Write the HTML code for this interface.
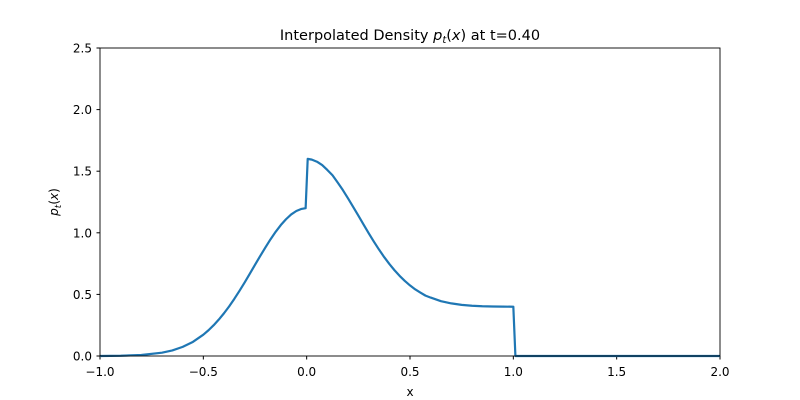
<!DOCTYPE html>
<html><head><meta charset="utf-8"><style>
body{margin:0;background:#fff;}
svg{display:block;font-family:"DejaVu Sans","Liberation Sans",sans-serif;}
</style></head><body>
<svg id="chart" width="800" height="400" viewBox="0 0 800 400">
<rect width="800" height="400" fill="#fff"/>
<text x="410" y="40" text-anchor="middle" font-size="14.5">Interpolated Density <tspan font-style="italic">p</tspan><tspan font-style="italic" font-size="10" dy="3">t</tspan><tspan dy="-3">(</tspan><tspan font-style="italic">x</tspan>) at t=0.40</text>
<g id="ticks"></g>
<path id="curve" fill="none" stroke="#1f77b4" stroke-width="2.2" stroke-linejoin="round"/>
<rect x="100" y="48" width="620" height="308" fill="none" stroke="#000" stroke-width="0.9"/>
<text x="410" y="396" text-anchor="middle" font-size="12">x</text>
<text transform="translate(58,202) rotate(-90)" text-anchor="middle" font-size="12"><tspan font-style="italic">p</tspan><tspan font-style="italic" font-size="9" dy="3">t</tspan><tspan dy="-3">(</tspan><tspan font-style="italic">x</tspan>)</text>
</svg>
<script>
const xValues = [-1,-0.9,-0.8,-0.7,-0.65,-0.6,-0.55,-0.5,-0.475,-0.45,-0.425,-0.4,-0.375,-0.35,-0.325,-0.3,-0.275,-0.25,-0.225,-0.2,-0.175,-0.15,-0.125,-0.1,-0.075,-0.05,-0.025,-0.005,0.005,0.025,0.05,0.075,0.1,0.125,0.15,0.175,0.2,0.225,0.25,0.275,0.3,0.325,0.35,0.375,0.4,0.425,0.45,0.475,0.5,0.525,0.55,0.575,0.6,0.65,0.7,0.75,0.8,0.85,0.9,0.95,1.0,1.01,1.5,2.0];
const yValues = [0,0.002,0.008,0.027,0.045,0.074,0.115,0.173,0.209,0.25,0.296,0.347,0.403,0.464,0.529,0.597,0.668,0.74,0.811,0.88,0.947,1.008,1.063,1.11,1.149,1.177,1.194,1.2,1.6,1.594,1.577,1.55,1.51,1.467,1.408,1.347,1.28,1.21,1.14,1.068,0.997,0.929,0.864,0.803,0.747,0.696,0.65,0.609,0.573,0.541,0.515,0.49,0.474,0.445,0.427,0.415,0.408,0.404,0.402,0.401,0.4,0,0,0];
const xTicks = [-1.0,-0.5,0.0,0.5,1.0,1.5,2.0];
const yTicks = [0.0,0.5,1.0,1.5,2.0,2.5];
const X0=100,X1=720,Y0=356,Y1=48,xmin=-1,xmax=2,ymin=0,ymax=2.5;
function sx(v){return X0+(v-xmin)/(xmax-xmin)*(X1-X0);}
function sy(v){return Y0-(v-ymin)/(ymax-ymin)*(Y0-Y1);}
const NS="http://www.w3.org/2000/svg";
const g=document.getElementById('ticks');
xTicks.forEach(t=>{
  const l=document.createElementNS(NS,'line');
  
  
  l.setAttribute('x1',sx(t));l.setAttribute('x2',sx(t));l.setAttribute('y1',356);l.setAttribute('y2',359.5);l.setAttribute('stroke','#000');
  g.appendChild(l);
  const tx=document.createElementNS(NS,'text');
  
  
  tx.setAttribute('x',sx(t));tx.setAttribute('y',376);tx.setAttribute('text-anchor','middle');tx.setAttribute('font-size','12');
  tx.textContent=(t<0?'\u2212':'')+Math.abs(t).toFixed(1);
  g.appendChild(tx);
});
yTicks.forEach(t=>{
  const l=document.createElementNS(NS,'line');
  
  
  l.setAttribute('x1',96.5);l.setAttribute('x2',100);l.setAttribute('y1',sy(t));l.setAttribute('y2',sy(t));l.setAttribute('stroke','#000');
  g.appendChild(l);
  const tx=document.createElementNS(NS,'text');
  
  
  tx.setAttribute('x',92);tx.setAttribute('y',sy(t)+4.5);tx.setAttribute('text-anchor','end');tx.setAttribute('font-size','12');
  tx.textContent=t.toFixed(1);
  g.appendChild(tx);
});
document.getElementById('curve').setAttribute('d',xValues.map((x,i)=>(i?'L':'M')+sx(x).toFixed(2)+','+sy(yValues[i]).toFixed(2)).join(' '));
</script>
</body></html>
